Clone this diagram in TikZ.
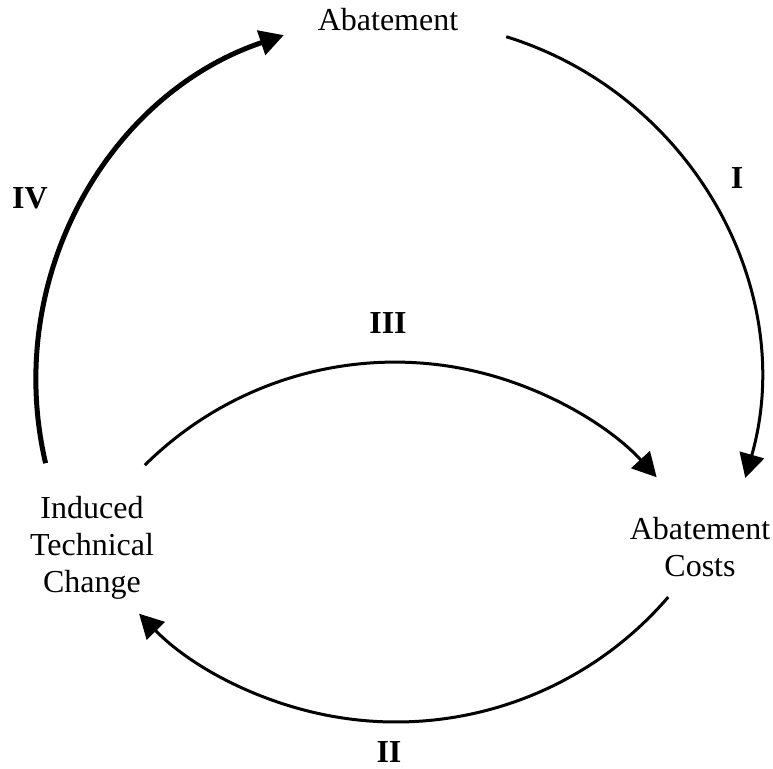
\documentclass[tikz,border=0pt]{standalone}
\usepackage{fontspec}
\setmainfont{Liberation Serif}
\usetikzlibrary{arrows.meta}

\tikzset{
  box/.style={align=center, inner sep=0pt, font=\fontsize{16}{18.5}\selectfont},
  num/.style={inner sep=0pt, font=\fontsize{16}{18.5}\selectfont\bfseries},
  arr/.style={line width=1.5pt, -{Triangle[length=12pt,width=12.5pt]}},
}

\begin{document}
\begin{tikzpicture}[x=0.5pt,y=0.5pt]
   \useasboundingbox (0,0) rectangle (773,768);

   \node[box] (abate) at (388,748) {Abatement};
   \node[box] (costs) at (700,221) {Abatement\\Costs};
   \node[box] (itc)   at (92,220)  {Induced\\Technical\\Change};

   % where the arcs start
   \coordinate (abate-r) at (506.2,731.3);
   \coordinate (costs-b) at (668.2,170.9);
   \coordinate (itc-r)   at (144.8,302.8);
   \coordinate (itc-t)   at (45.6,304.8);

   \draw[arr] (abate-r) arc[start angle=72.8, end angle=-15.9, radius=179.5pt];
   \draw[arr] (costs-b) arc[start angle=-40.7, end angle=-135.7, radius=179.5pt];
   \draw[arr] (itc-r) arc[start angle=134.8, end angle=42.5, radius=177.5pt];
   \draw[arr, line width=2.5pt] (itc-t) arc[start angle=193.2, end angle=108.6, radius=182pt];

   \node[num] (one)   at (737,590) {I};
   \node[num] (two)   at (389,16)  {II};
   \node[num] (three) at (388,445) {III};
   \node[num] (four)  at (30,570)  {IV};

\end{tikzpicture}
\end{document}
